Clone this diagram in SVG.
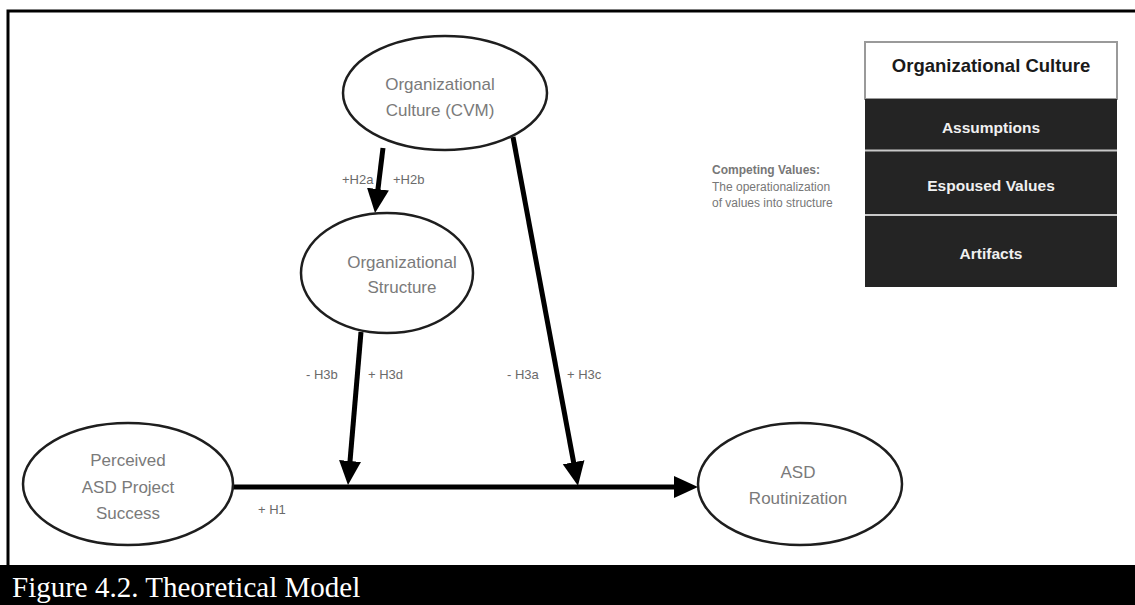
<svg xmlns="http://www.w3.org/2000/svg" width="1135" height="605" viewBox="0 0 1135 605">
  <style>
    .node ellipse { fill: #ffffff; stroke: #1e1e1e; stroke-width: 2.5; }
    .node text { font-family: "Liberation Sans", Arial, sans-serif; font-size: 17px; fill: #7a7a7a; text-anchor: middle; }
    .edge { stroke: #000000; stroke-width: 5; fill: none; }
    .lbl { font-family: "Liberation Sans", Arial, sans-serif; font-size: 13px; fill: #6a6a6a; }
    .layer-text { font-family: "Liberation Sans", Arial, sans-serif; font-weight: bold; font-size: 15.5px; fill: #f0f0f0; text-anchor: middle; }
    .note { font-family: "Liberation Sans", Arial, sans-serif; font-size: 12px; fill: #777777; }
  </style>
  <defs>
    <!-- tip sits 12px past the end of the shaft -->
    <marker id="head" markerUnits="userSpaceOnUse" markerWidth="26" markerHeight="24" refX="12" refY="12" orient="auto">
      <path d="M0,1 L24,12 L0,23 z" fill="#000000"/>
    </marker>
  </defs>

  <rect x="0" y="0" width="1135" height="605" fill="#ffffff"/>

  <!-- page frame -->
  <path d="M8,565 L8,11 L1135,11" fill="none" stroke="#000000" stroke-width="3"/>

  <!-- connectors -->
  <g id="connectors">
    <line class="edge" x1="383" y1="148" x2="376.5" y2="201" marker-end="url(#head)"/>
    <line class="edge" x1="361" y1="332" x2="349" y2="473" marker-end="url(#head)"/>
    <line class="edge" x1="513" y1="137" x2="575.8" y2="474" marker-end="url(#head)"/>
    <line class="edge" x1="233" y1="487" x2="686" y2="487" marker-end="url(#head)"/>
  </g>

  <!-- hypothesis labels -->
  <g id="labels">
    <text class="lbl" x="342" y="184">+H2a</text>
    <text class="lbl" x="393" y="184">+H2b</text>
    <text class="lbl" x="306" y="379">- H3b</text>
    <text class="lbl" x="368" y="379">+  H3d</text>
    <text class="lbl" x="507" y="379">- H3a</text>
    <text class="lbl" x="567" y="379">+ H3c</text>
    <text class="lbl" x="258" y="514">+ H1</text>
  </g>

  <g id="culture-cvm" class="node">
    <ellipse cx="445" cy="93" rx="102" ry="57"/>
    <text x="440" y="90">Organizational</text>
    <text x="440" y="116">Culture (CVM)</text>
  </g>

  <g id="org-structure" class="node">
    <ellipse cx="387" cy="273" rx="86" ry="60"/>
    <text x="402" y="268">Organizational</text>
    <text x="402" y="293">Structure</text>
  </g>

  <g id="project-success" class="node">
    <ellipse cx="128" cy="484" rx="105" ry="61"/>
    <text x="128" y="466">Perceived</text>
    <text x="128" y="493">ASD Project</text>
    <text x="128" y="519">Success</text>
  </g>

  <g id="routinization" class="node">
    <ellipse cx="800" cy="484" rx="102" ry="61"/>
    <text x="798" y="478">ASD</text>
    <text x="798" y="504">Routinization</text>
  </g>

  <g id="competing-values">
    <text class="note" x="712" y="174" font-weight="bold" fill="#444444">Competing Values:</text>
    <text class="note" x="712" y="191">The operationalization</text>
    <text class="note" x="712" y="207">of values into structure</text>
  </g>

  <g id="culture-layers">
    <rect x="865" y="42" width="252" height="57" fill="#ffffff" stroke="#9a9a9a" stroke-width="2"/>
    <text x="991" y="72" font-family="Liberation Sans, Arial, sans-serif" font-weight="bold" font-size="18.5px" fill="#1a1a1a" text-anchor="middle">Organizational Culture</text>
    <rect x="865" y="99" width="252" height="188" fill="#242424"/>
    <line x1="865" y1="150.5" x2="1117" y2="150.5" stroke="#c8c8c8" stroke-width="2"/>
    <line x1="865" y1="215" x2="1117" y2="215" stroke="#c8c8c8" stroke-width="2"/>
    <text class="layer-text" x="991" y="133">Assumptions</text>
    <text class="layer-text" x="991" y="191">Espoused Values</text>
    <text class="layer-text" x="991" y="259">Artifacts</text>
  </g>

  <!-- caption -->
  <rect x="0" y="565" width="1135" height="40" fill="#000000"/>
  <text x="12" y="597" font-family="Liberation Serif, Times New Roman, serif" font-size="29px" fill="#ffffff">Figure 4.2. Theoretical Model</text>
</svg>
